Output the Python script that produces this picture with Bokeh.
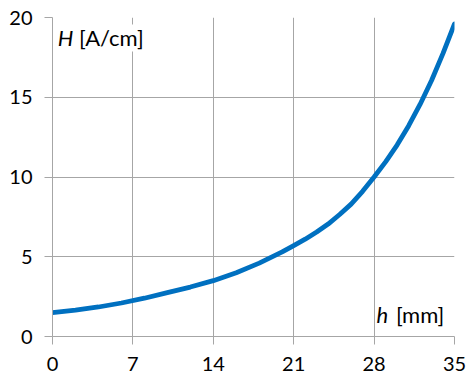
from bokeh.plotting import figure
from bokeh.models import Range1d, FixedTicker, Label, ColumnDataSource
from bokeh.embed import file_html
from bokeh.resources import INLINE

# data
h_mm = [0, 2, 4, 6, 8, 10, 12, 14, 16, 18, 20, 21, 22, 23, 24, 25, 26, 27, 28, 29, 30, 31, 32, 33, 34, 35]
H_Acm = [1.5, 1.65, 1.85, 2.1, 2.4, 2.75, 3.1, 3.5, 4.0, 4.6, 5.3, 5.7, 6.1, 6.55, 7.05, 7.65,
         8.3, 9.1, 10.0, 10.95, 12.0, 13.2, 14.55, 16.05, 17.75, 19.6]
x_ticks = [0, 7, 14, 21, 28, 35]
y_ticks = [0, 5, 10, 15, 20]

FONT = "Lato"
GRID = "#a6a6a6"

p = figure(width=468, height=385, output_backend="svg", toolbar_location=None,
           x_range=Range1d(0, 35), y_range=Range1d(0, 20),
           min_border_left=52, min_border_right=14, min_border_top=17, min_border_bottom=49)
p.outline_line_color = None
p.background_fill_color = "white"

src = ColumnDataSource(dict(x=h_mm, y=H_Acm))
p.line("x", "y", source=src, line_color="#0070C0", line_width=4.8,
       line_cap="round", line_join="round")

for ax, ticks in ((p.xaxis[0], x_ticks), (p.yaxis[0], y_ticks)):
    ax.ticker = FixedTicker(ticks=ticks)
    ax.axis_line_color = GRID
    ax.major_tick_line_color = GRID
    ax.major_tick_in = 0
    ax.major_tick_out = 8
    ax.minor_tick_line_color = None
    ax.major_label_text_font = FONT
    ax.major_label_text_font_size = "20px"
    ax.major_label_text_color = "black"
p.xaxis.major_label_standoff = 12
p.yaxis.major_label_standoff = 12

p.xgrid.ticker = FixedTicker(ticks=x_ticks)
p.ygrid.ticker = FixedTicker(ticks=y_ticks)
p.grid.grid_line_color = GRID
p.grid.grid_line_width = 1

LS = "22px"
p.add_layout(Label(x=0.45, y=18.72, text="H", text_font=FONT, text_font_style="italic",
                   text_font_size=LS, text_color="black", text_baseline="alphabetic",
                   background_fill_color="white"))
p.add_layout(Label(x=2.3, y=18.72, text="[A/cm]", text_font=FONT,
                   text_font_size=LS, text_color="black", text_baseline="alphabetic",
                   background_fill_color="white"))
p.add_layout(Label(x=28.2, y=1.36, text="h", text_font=FONT, text_font_style="italic",
                   text_font_size=LS, text_color="black", text_baseline="alphabetic"))
p.add_layout(Label(x=29.9, y=1.36, text="[mm]", text_font=FONT,
                   text_font_size=LS, text_color="black", text_baseline="alphabetic"))

open("out.html", "w").write(file_html(p, INLINE))
